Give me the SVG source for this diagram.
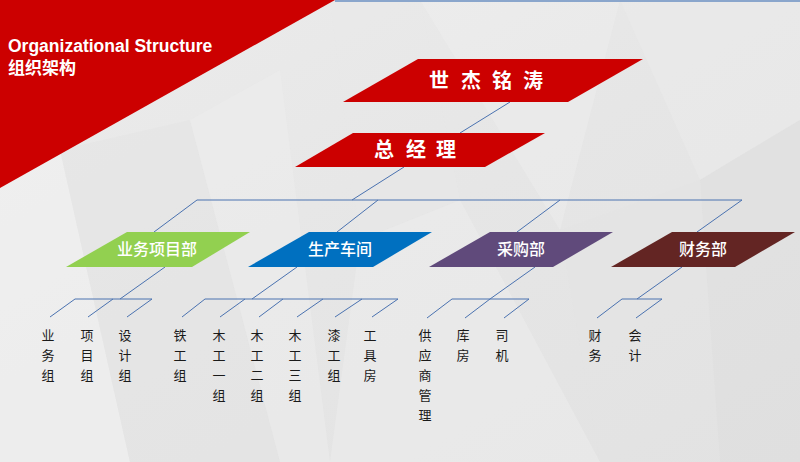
<svg xmlns="http://www.w3.org/2000/svg" width="800" height="462" viewBox="0 0 800 462">
<defs>
<linearGradient id="bg" x1="0" y1="0" x2="1" y2="1">
<stop offset="0" stop-color="#ececec"/>
<stop offset="0.5" stop-color="#e6e6e6"/>
<stop offset="1" stop-color="#e2e2e2"/>
</linearGradient>
<style>
.conn line, .conn polyline { stroke:#4a72b0; stroke-width:1; fill:none; }
.t1 { font-family:"Noto Sans CJK SC","Noto Sans",sans-serif; font-weight:bold; fill:#ffffff; font-size:20px; text-anchor:middle; }
.t2 { font-family:"Noto Sans CJK SC","Noto Sans",sans-serif; font-weight:500; fill:#ffffff; font-size:16px; text-anchor:middle; }
.t3 { font-family:"Noto Sans CJK SC","Noto Sans",sans-serif; fill:#1a1a1a; font-size:13px; text-anchor:middle; }
.face { stroke:none; }
</style>
</defs>
<rect width="800" height="462" fill="url(#bg)"/>
<g id="background">
<polygon class="face" points="0,188 60,150 130,462 0,462" fill="#f2f2f2" opacity="0.6"/>
<polygon class="face" points="130,462 60,150 190,120 280,462" fill="#e4e4e4" opacity="0.5"/>
<polygon class="face" points="190,120 280,70 330,462 280,462" fill="#ededed" opacity="0.5"/>
<polygon class="face" points="330,0 420,0 460,200 360,240" fill="#e9e9e9" opacity="0.4"/>
<polygon class="face" points="420,0 620,0 560,230" fill="#efefef" opacity="0.4"/>
<polygon class="face" points="620,0 800,0 800,120 700,180" fill="#ebebeb" opacity="0.5"/>
<polygon class="face" points="700,180 800,120 800,462 720,462" fill="#dddddd" opacity="0.4"/>
<polygon class="face" points="560,230 700,180 720,462 600,462" fill="#e3e3e3" opacity="0.4"/>
<polygon class="face" points="330,462 360,240 460,200 600,462" fill="#f0f0f0" opacity="0.4"/>
<line x1="335" y1="1" x2="800" y2="1" stroke="#8aa6cc" stroke-width="2"/>
<polygon points="0,0 335,0 0,188" fill="#cc0000"/>
</g>
<g id="title">
<text x="8" y="52" font-family="Liberation Sans, Arial, sans-serif" font-weight="bold" font-size="17.5" fill="#ffffff">Organizational Structure</text>
<text x="8" y="74" font-family="Noto Sans CJK SC, sans-serif" font-weight="bold" font-size="17" fill="#ffffff">组织架构</text>
</g>
<g id="connectors" class="conn">
<line x1="510" y1="102" x2="460" y2="133"/>
<line x1="404" y1="167" x2="352" y2="200"/>
<line x1="197" y1="200" x2="742" y2="200"/>
<line x1="197" y1="200" x2="154" y2="232"/>
<line x1="378" y1="200" x2="337" y2="232"/>
<line x1="560" y1="200" x2="517" y2="232"/>
<line x1="742" y1="200" x2="697" y2="232"/>
<line x1="165" y1="267" x2="120" y2="299"/>
<line x1="75" y1="299" x2="152" y2="299"/>
<line x1="75" y1="299" x2="50" y2="317"/>
<line x1="113" y1="299" x2="88" y2="317"/>
<line x1="152" y1="299" x2="127" y2="317"/>
<line x1="297" y1="267" x2="252" y2="299"/>
<line x1="205" y1="299" x2="398" y2="299"/>
<line x1="205" y1="299" x2="182" y2="317"/>
<line x1="245" y1="299" x2="220" y2="317"/>
<line x1="283" y1="299" x2="259" y2="317"/>
<line x1="323" y1="299" x2="297" y2="317"/>
<line x1="362" y1="299" x2="335" y2="317"/>
<line x1="398" y1="299" x2="372" y2="317"/>
<line x1="535" y1="267" x2="490" y2="299"/>
<line x1="452" y1="299" x2="529" y2="299"/>
<line x1="452" y1="299" x2="427" y2="318"/>
<line x1="490" y1="299" x2="465" y2="318"/>
<line x1="529" y1="299" x2="504" y2="318"/>
<line x1="682" y1="267" x2="637" y2="299"/>
<line x1="622" y1="299" x2="662" y2="299"/>
<line x1="622" y1="299" x2="597" y2="318"/>
<line x1="662" y1="299" x2="636" y2="318"/>
</g>
<g id="node-sjmt">
<polygon points="418,59 643,59 568,102 343,102" fill="#cc0000"/>
<text class="t1" x="439" y="88">世</text>
<text class="t1" x="471" y="88">杰</text>
<text class="t1" x="502" y="88">铭</text>
<text class="t1" x="533" y="88">涛</text>
</g>
<g id="node-gm">
<polygon points="353,133 545,133 485,167 295,167" fill="#cc0000"/>
<text class="t1" x="384" y="157">总</text>
<text class="t1" x="416" y="157">经</text>
<text class="t1" x="446" y="157">理</text>
</g>
<g id="node-business">
<polygon points="127,232 250,232 192,267 66,267" fill="#92d050"/>
<text class="t2" x="157" y="255">业务项目部</text>
</g>
<g id="node-production">
<polygon points="309,232 432,232 373,267 248,267" fill="#0070c0"/>
<text class="t2" x="340" y="255">生产车间</text>
</g>
<g id="node-purchase">
<polygon points="490,232 613,232 553,267 429,267" fill="#604a7b"/>
<text class="t2" x="521" y="255">采购部</text>
</g>
<g id="node-finance">
<polygon points="672,232 795,232 735,267 611,267" fill="#632523"/>
<text class="t2" x="703" y="255">财务部</text>
</g>
<g id="leaf-yewu" class="t3"><text x="48" y="340">业</text><text x="48" y="360">务</text><text x="48" y="380">组</text></g>
<g id="leaf-xiangmu" class="t3"><text x="87" y="340">项</text><text x="87" y="360">目</text><text x="87" y="380">组</text></g>
<g id="leaf-sheji" class="t3"><text x="125" y="340">设</text><text x="125" y="360">计</text><text x="125" y="380">组</text></g>
<g id="leaf-tiegong" class="t3"><text x="180" y="340">铁</text><text x="180" y="360">工</text><text x="180" y="380">组</text></g>
<g id="leaf-mugong1" class="t3"><text x="219" y="340">木</text><text x="219" y="360">工</text><text x="219" y="380">一</text><text x="219" y="400">组</text></g>
<g id="leaf-mugong2" class="t3"><text x="257" y="340">木</text><text x="257" y="360">工</text><text x="257" y="380">二</text><text x="257" y="400">组</text></g>
<g id="leaf-mugong3" class="t3"><text x="295" y="340">木</text><text x="295" y="360">工</text><text x="295" y="380">三</text><text x="295" y="400">组</text></g>
<g id="leaf-qigong" class="t3"><text x="334" y="340">漆</text><text x="334" y="360">工</text><text x="334" y="380">组</text></g>
<g id="leaf-gongjufang" class="t3"><text x="370" y="340">工</text><text x="370" y="360">具</text><text x="370" y="380">房</text></g>
<g id="leaf-gongying" class="t3"><text x="425" y="340">供</text><text x="425" y="360">应</text><text x="425" y="380">商</text><text x="425" y="400">管</text><text x="425" y="420">理</text></g>
<g id="leaf-kufang" class="t3"><text x="463" y="340">库</text><text x="463" y="360">房</text></g>
<g id="leaf-siji" class="t3"><text x="502" y="340">司</text><text x="502" y="360">机</text></g>
<g id="leaf-caiwu" class="t3"><text x="595" y="340">财</text><text x="595" y="360">务</text></g>
<g id="leaf-kuaiji" class="t3"><text x="635" y="340">会</text><text x="635" y="360">计</text></g>
</svg>
